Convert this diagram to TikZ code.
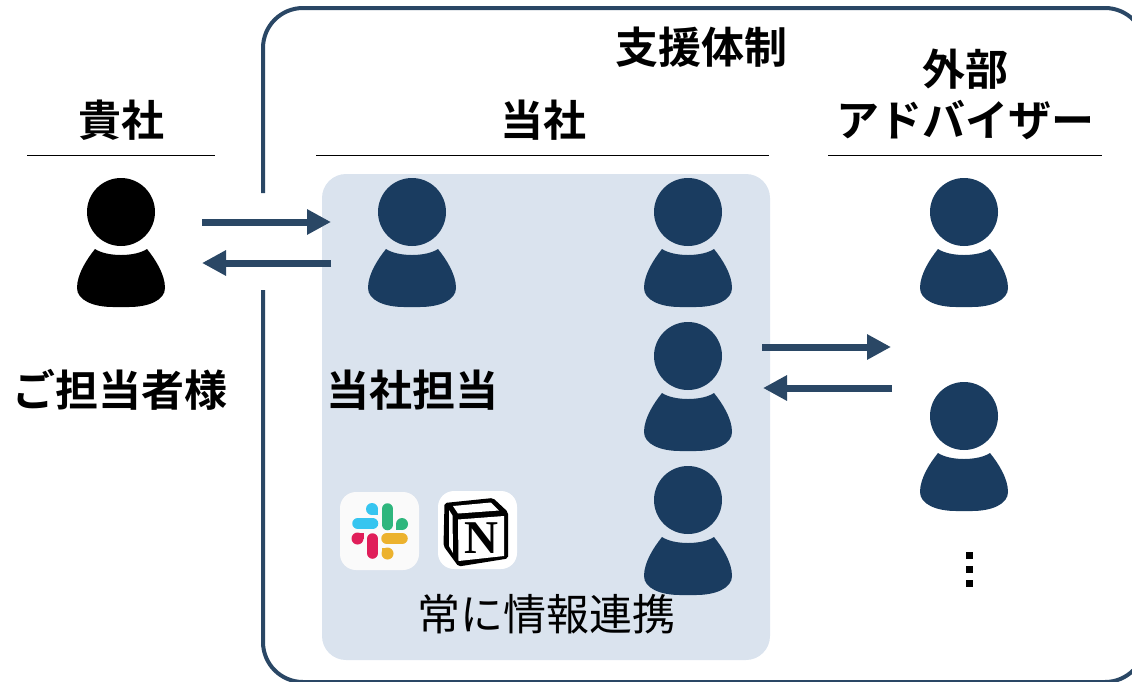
\documentclass[tikz,border=0pt]{standalone}
\usepackage{fontspec}
\usetikzlibrary{arrows.meta}
\setmainfont{Noto Sans CJK JP}
\newfontfamily\jpbold{Noto Sans CJK JP Bold}
\newfontfamily\nserif{Liberation Serif}
\definecolor{navy}{HTML}{1A3C60}
\definecolor{arrowc}{HTML}{2A4765}
\definecolor{framec}{HTML}{2A4765}
\definecolor{panel}{HTML}{DAE3EE}
\definecolor{slackb}{HTML}{36C5F0}
\definecolor{slackg}{HTML}{2EB67D}
\definecolor{slacky}{HTML}{ECB22E}
\definecolor{slackr}{HTML}{E01E5A}
\definecolor{slackbg}{HTML}{FAFAFA}
\tikzset{
  personicon/.pic={
    \fill[pic actions] (0,0) circle[radius=34];
    \fill[pic actions] (-26,37) .. controls (-14,45) and (14,45) .. (26,37)
       .. controls (34,47) and (44,62) .. (44,76)
       .. controls (44,88) and (28,95) .. (8,95) -- (-8,95)
       .. controls (-28,95) and (-44,88) .. (-44,76)
       .. controls (-44,62) and (-34,47) .. (-26,37) -- cycle;
  },
  head/.style={font=\jpbold\fontsize{43}{51}\selectfont, inner sep=0pt, align=center, text=black},
  plain/.style={font=\fontsize{43}{51}\selectfont, inner sep=0pt, text=black},
  rule/.style={draw=black, line width=1pt},
  link/.style={draw=arrowc, line width=7pt, -{Triangle[length=24pt,width=24pt]}},
  pill/.style={line width=11.5pt, line cap=round},
  dot/.style={fill=black, draw=none, minimum size=7pt, inner sep=0pt},
  iconbox/.style={fill=#1, draw=none, rounded corners=16pt, minimum width=79pt, minimum height=78pt, inner sep=0pt}
}
\begin{document}
\begin{tikzpicture}[x=1pt,y=-1pt]
\useasboundingbox (0,0) rectangle (1132,681);
\clip (0,0) rectangle (1132,681);
% support frame, with a gap for the arrows
\draw[draw=framec, line width=4pt, rounded corners=40pt]
  (263,193) -- (263,8) -- (1145,8) -- (1145,682) -- (263,682) -- (263,290);
% panel
\node[fill=panel, draw=none, rounded corners=24pt, minimum width=448pt, minimum height=486pt, inner sep=0pt] (panelbox) at (546,417) {};
% rules
\coordinate (r1a) at (27,155); \coordinate (r1b) at (215,155);
\coordinate (r2a) at (316,155); \coordinate (r2b) at (769,155);
\coordinate (r3a) at (828,155); \coordinate (r3b) at (1102,155);
\draw[rule] (r1a) -- (r1b);
\draw[rule] (r2a) -- (r2b);
\draw[rule] (r3a) -- (r3b);
% people
\pic[fill=black] at (121,212) {personicon};
\pic[fill=navy] at (412,212) {personicon};
\pic[fill=navy] at (688,212) {personicon};
\pic[fill=navy] at (964,212) {personicon};
\pic[fill=navy] at (688,356) {personicon};
\pic[fill=navy] at (964,416) {personicon};
\pic[fill=navy] at (688,500) {personicon};
% arrows
\coordinate (a1s) at (202,222); \coordinate (a1e) at (331,222);
\coordinate (a2s) at (331,263); \coordinate (a2e) at (202,263);
\coordinate (a3s) at (762,347); \coordinate (a3e) at (891,347);
\coordinate (a4s) at (892,388); \coordinate (a4e) at (763,388);
\draw[link] (a1s) -- (a1e);
\draw[link] (a2s) -- (a2e);
\draw[link] (a3s) -- (a3e);
\draw[link] (a4s) -- (a4e);
% labels
\node[head] (t1) at (121,120) {貴社};
\node[head] (t2) at (543,120) {当社};
\node[head] (t3) at (701,47) {支援体制};
\node[head] (t4) at (965,94) {外部\\アドバイザー};
\node[head] (t5) at (120,390) {ご担当者様};
\node[head] (t6) at (412,390) {当社担当};
\node[plain] (t7) at (546,614) {常に情報連携};
% slack icon
\node[iconbox=slackbg] (slackicon) at (379.5,531) {};
\draw[pill, slackb] (358,523.5) -- (372.5,523.5);
\fill[slackb] (372,509) circle[radius=6];
\fill[slackb] (372,509) rectangle (378,515);
\draw[pill, slackg] (387.5,509) -- (387.5,524.5);
\fill[slackg] (402,524) circle[radius=6];
\fill[slackg] (396,524) rectangle (402,530);
\draw[pill, slacky] (387,538.5) -- (402,538.5);
\fill[slacky] (387.5,553.5) circle[radius=6];
\fill[slacky] (381.5,547.5) rectangle (387.5,553.5);
\draw[pill, slackr] (372.5,539) -- (372.5,553);
\fill[slackr] (357.5,538.5) circle[radius=6];
\fill[slackr] (357.5,532.5) rectangle (363.5,538.5);
% notion icon
\node[iconbox=white] (notionicon) at (477.5,530) {};
\fill[black, rounded corners=2pt] (444.5,503) -- (493,498) -- (508,512) -- (508,558.5) -- (458.5,566.5) -- (443.5,546) -- cycle;
\fill[white] (453,506) -- (491,502.5) -- (499,510.5) -- (458,513.5) -- cycle;
\fill[white] (458,519.5) -- (504,516) -- (504,556) -- (458.5,561) -- cycle;
\fill[white] (449,510) -- (452.5,515.5) -- (453,553) -- (449,546) -- cycle;
\node[font=\nserif\bfseries\fontsize{47}{47}\selectfont, inner sep=0pt, text=black] (notionN) at (481,538) {N};
% vertical dots
\node[dot] (d1) at (969,555) {};
\node[dot] (d2) at (969,569) {};
\node[dot] (d3) at (969,583) {};
\end{tikzpicture}
\end{document}
